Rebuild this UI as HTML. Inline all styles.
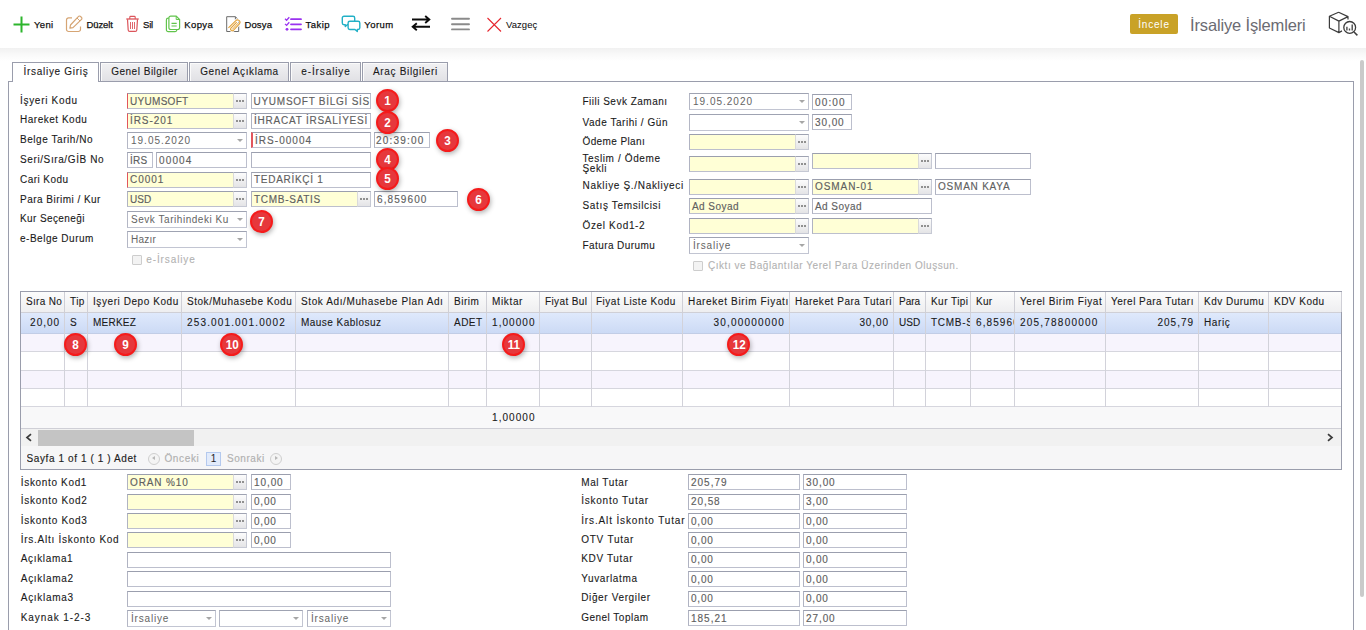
<!DOCTYPE html><html><head><meta charset="utf-8"><title>İrsaliye İşlemleri</title><style>
*{box-sizing:border-box}
html,body{margin:0;padding:0}
body{width:1366px;height:630px;overflow:hidden;background:#fff;position:relative;font-family:"Liberation Sans",sans-serif;font-size:10px;color:#222}
.a{position:absolute;white-space:nowrap;overflow:hidden}
.lbl{position:absolute;white-space:nowrap;color:#1a1a1a;font-size:10px;line-height:12px;-webkit-text-stroke:.1px currentColor}
.in{position:absolute;height:16px;border:1px solid #bcbfcd;border-top-color:#9b9fae;border-left-color:#b0b3c2;background:#fff;color:#606060;-webkit-text-stroke:.15px currentColor;font-size:10px;line-height:15px;padding:0 0 0 2px;white-space:nowrap;overflow:hidden}
.y{background:#ffffd6}
.req{border-left-color:#e2555c}
.btn{position:absolute;height:16px;width:14px;border:1px solid #c6c9d4;border-top-color:#9fa3b2;border-left-color:#dadada;background:linear-gradient(#fcfcfc,#e4e4e6)}
.btn i{position:absolute;top:6px;width:2px;height:2px;background:#909090}
.cmb{position:absolute;height:17px;border:1px solid #c2c5d2;border-top-color:#9fa3b2;border-left-color:#b4b7c5;background:#fff;color:#646464;font-size:10px;line-height:15px;padding:0 0 0 3px;white-space:nowrap;overflow:hidden}
.cmb:after{content:"";position:absolute;right:3px;top:6px;border:3px solid transparent;border-top:3px solid #a6a6a6;border-bottom:0}
.tb{position:absolute;top:18px;font-size:9.5px;color:#101010;line-height:13px;white-space:nowrap;-webkit-text-stroke:.25px #101010}
.tab{position:absolute;top:62px;height:19px;border:1px solid #9a9dac;border-bottom:0;background:linear-gradient(#f1f1f3,#e1e1e5);box-shadow:inset 1px 1px 0 #fbfbfb;font-size:10px;color:#1a1a1a;-webkit-text-stroke:.1px currentColor;text-align:center;line-height:17px;white-space:nowrap}
.num{position:absolute;width:23px;height:23px;border-radius:50%;border:2px solid #f51b1b;background:#e6383c;color:#fff;font-weight:bold;font-size:13px;line-height:19px;text-align:center;box-shadow:1px 2px 5px rgba(0,0,0,.3);padding-left:1px}
.num b{display:inline-block;transform:scaleX(.9)}
.gh{position:absolute;top:292px;height:20px;font-size:10px;color:#1a1a1a;-webkit-text-stroke:.1px currentColor;line-height:19px;white-space:nowrap;overflow:hidden;border-right:1px solid #cfcfd6;padding-left:5px}
.gc{position:absolute;top:313px;height:20px;font-size:10px;color:#1a1a1a;-webkit-text-stroke:.1px currentColor;line-height:19px;white-space:nowrap;overflow:hidden;padding-left:5px}
.r{text-align:right;padding-right:4px;padding-left:0}
</style></head><body>
<div class="a" style="left:0;top:48px;width:1366px;height:13px;background:linear-gradient(#f1f1f1,#f9f9f9 50%,#fff)"></div>
<svg class="a" style="left:13px;top:16px" width="17" height="17" viewBox="0 0 17 17" fill="none"><path d="M8.5 0.5V16.5M0.5 8.5H16.5" stroke="#2db52d" stroke-width="2"/></svg>
<div class="tb" style="left:34px;letter-spacing:0.339px;">Yeni</div>
<svg class="a" style="left:65px;top:15px" width="18" height="18" viewBox="0 0 18 18" fill="none"><path d="M7 2.8H3.6A2.1 2.1 0 0 0 1.5 4.9V14.4A2.1 2.1 0 0 0 3.6 16.5H13.4A2.1 2.1 0 0 0 15.5 14.4V11.5" stroke="#d6a574" stroke-width="1.2"/><path d="M13.3 1.6A1.5 1.5 0 0 1 15.6 1.5L16.4 2.3A1.5 1.5 0 0 1 16.3 4.6L8 12.6L4.9 13.1L5.5 10Z" stroke="#d6a574" stroke-width="1.2" stroke-linejoin="round"/><path d="M12 3L15 6" stroke="#d6a574" stroke-width="1"/></svg>
<div class="tb" style="left:86.5px;letter-spacing:-0.105px;">Düzelt</div>
<svg class="a" style="left:125px;top:15px" width="15" height="18" viewBox="0 0 15 18" fill="none"><path d="M1.3 4H13.7" stroke="#dc555b" stroke-width="1.3"/><path d="M4.8 4V2.2A0.8 0.8 0 0 1 5.6 1.4H9.4A0.8 0.8 0 0 1 10.2 2.2V4" stroke="#dc555b" stroke-width="1.1"/><path d="M2.5 4.2L3.2 15A1.5 1.5 0 0 0 4.7 16.4H10.3A1.5 1.5 0 0 0 11.8 15L12.5 4.2" stroke="#dc555b" stroke-width="1.2"/><path d="M5.5 7V14M7.5 7V14M9.5 7V14" stroke="#dc555b" stroke-width="0.9"/></svg>
<div class="tb" style="left:143px;letter-spacing:-0.186px;">Sil</div>
<svg class="a" style="left:165px;top:15px" width="16" height="18" viewBox="0 0 16 18" fill="none"><path d="M3.8 3.2H3.2A1.8 1.8 0 0 0 1.4 5V14.8A1.8 1.8 0 0 0 3.2 16.6H10A1.8 1.8 0 0 0 11.8 14.8V14.5" stroke="#62c44c" stroke-width="1.2"/><path d="M3.9 2.9A1.8 1.8 0 0 1 5.7 1.1H11.2L14.6 4.5V12.7A1.8 1.8 0 0 1 12.8 14.5H5.7A1.8 1.8 0 0 1 3.9 12.7Z" stroke="#62c44c" stroke-width="1.2"/><path d="M11.2 1.1V4.5H14.6" stroke="#62c44c" stroke-width="1"/><path d="M6.5 8.4H11.7M6.5 11H11.7" stroke="#62c44c" stroke-width="1.2"/></svg>
<div class="tb" style="left:184.2px;letter-spacing:0.412px;">Kopya</div>
<svg class="a" style="left:225px;top:15px" width="17" height="18" viewBox="0 0 17 18" fill="none"><path d="M1.7 1.7H10.4L13.7 5V16.5H1.7Z" stroke="#6c6c6c" stroke-width="1" stroke-linejoin="round"/><path d="M10.4 1.7V5H13.7" stroke="#6c6c6c" stroke-width="1"/><path d="M3.4 12.8L10.6 5.8A2.4 2.4 0 0 1 14.4 8.8L8.2 15.5A1.7 1.7 0 0 1 5.7 13.4L11.7 7.2" stroke="#fff" stroke-width="2.6"/><path d="M3.4 12.8L10.6 5.8A2.4 2.4 0 0 1 14.4 8.8L8.2 15.5A1.7 1.7 0 0 1 5.7 13.4L11.7 7.2" stroke="#e2a23a" stroke-width="1.1"/><path d="M7.2 14.5L13 8.2" stroke="#e2a23a" stroke-width="1"/></svg>
<div class="tb" style="left:244.4px;letter-spacing:0.154px;">Dosya</div>
<svg class="a" style="left:284px;top:15px" width="18" height="17" viewBox="0 0 18 17" fill="none"><path d="M7 4.2H17M7 9.3H17M7 14.3H17" stroke="#9a32f0" stroke-width="1.8" stroke-linecap="round"/><path d="M1 3.8L2.6 5.3L5.3 2.2M1 8.9L2.6 10.4L5.3 7.3" stroke="#9a32f0" stroke-width="1.3"/><circle cx="3" cy="14.3" r="1.4" fill="#9a32f0"/></svg>
<div class="tb" style="left:305.5px;letter-spacing:0.464px;">Takip</div>
<svg class="a" style="left:341px;top:15px" width="20" height="18" viewBox="0 0 20 18" fill="none"><path d="M3 1.3H12A1.7 1.7 0 0 1 13.7 3V8A1.7 1.7 0 0 1 12 9.7H6.3L4.3 11.6V9.7H3A1.7 1.7 0 0 1 1.3 8V3A1.7 1.7 0 0 1 3 1.3Z" stroke="#22b0c6" stroke-width="1.4" stroke-linejoin="round"/><path d="M8.8 6.2H17.1A1.7 1.7 0 0 1 18.8 7.9V12.8A1.7 1.7 0 0 1 17.1 14.5H16.3V16.6L14 14.5H8.8A1.7 1.7 0 0 1 7.1 12.8V7.9A1.7 1.7 0 0 1 8.8 6.2Z" fill="#fff" stroke="#22b0c6" stroke-width="1.4" stroke-linejoin="round"/></svg>
<div class="tb" style="left:364.2px;letter-spacing:0.498px;">Yorum</div>
<svg class="a" style="left:411px;top:15px" width="20" height="17" viewBox="0 0 20 17" fill="none"><path d="M1 4.5H18M14.2 1L18.3 4.5L14.2 8" stroke="#0c0c0c" stroke-width="1.9"/><path d="M19 11.7H2M5.8 8.2L1.7 11.7L5.8 15.2" stroke="#0c0c0c" stroke-width="1.9"/></svg>
<svg class="a" style="left:451px;top:16px" width="19" height="16" viewBox="0 0 19 16" fill="none"><path d="M1 2.8H18M1 8.3H18M1 13.4H18" stroke="#8a8a8a" stroke-width="1.9" stroke-linecap="round"/></svg>
<svg class="a" style="left:487px;top:17px" width="15" height="15" viewBox="0 0 15 15" fill="none"><path d="M0.5 1L14 14.5M14 1L0.5 14.5" stroke="#e6262e" stroke-width="1.1"/></svg>
<div class="tb" style="left:506px;letter-spacing:0.053px;-webkit-text-stroke:.05px #101010">Vazgeç</div>
<div class="a" style="left:1130px;top:14px;width:48px;height:20px;background:#c9a227;border-radius:2px;color:#fff;font-size:10px;letter-spacing:0.802px;text-align:center;line-height:21px">İncele</div>
<div class="a" style="left:1190px;top:14px;font-size:16.5px;color:#6b6b72;line-height:22px;letter-spacing:-0.149px">İrsaliye İşlemleri</div>
<svg class="a" style="left:1328px;top:11px" width="31" height="26" viewBox="0 0 31 26" fill="none"><path d="M10.6 1.2L1.4 5.3V17L10.9 21.6L14 19.9M10.6 1.2L20 5.6V8.4M1.4 5.3L10.9 10.1L20 5.6M10.9 10.1V21.6" stroke="#3c3c3c" stroke-width="1.2" stroke-linejoin="round"/><circle cx="21.7" cy="16.4" r="5.9" stroke="#3c3c3c" stroke-width="1.3"/><path d="M26 21L29.4 24.4" stroke="#3c3c3c" stroke-width="1.5"/><path d="M18.9 15.7V19.5M21.5 17.6V19.5M24.2 13.6V19.5" stroke="#4a4a4a" stroke-width="1.4"/></svg>
<div class="a" style="left:1360px;top:60px;width:4px;height:537px;background:#cacaca;border-radius:2px"></div>
<div class="a" style="left:8px;top:81px;width:1346px;height:560px;border:1px solid #9a9dac;border-bottom:0"></div>
<div class="tab" style="left:12px;width:87px;background:#fff;height:20px;box-shadow:none;letter-spacing:0.707px;padding-left:1px">İrsaliye Giriş</div>
<div class="tab" style="left:100px;width:88px;letter-spacing:0.516px;padding-left:1px">Genel Bilgiler</div>
<div class="tab" style="left:189px;width:100px;letter-spacing:0.605px;padding-left:1px">Genel Açıklama</div>
<div class="tab" style="left:290px;width:71px;letter-spacing:0.883px;padding-left:1px">e-İrsaliye</div>
<div class="tab" style="left:362px;width:86px;letter-spacing:0.673px;padding-left:1px">Araç Bilgileri</div>
<div class="lbl" style="left:20px;top:95px;letter-spacing:0.698px;">İşyeri Kodu</div>
<div class="lbl" style="left:20px;top:114px;letter-spacing:0.513px;">Hareket Kodu</div>
<div class="lbl" style="left:20px;top:134px;letter-spacing:0.556px;">Belge Tarih/No</div>
<div class="lbl" style="left:20px;top:154px;letter-spacing:0.608px;">Seri/Sıra/GİB No</div>
<div class="lbl" style="left:20px;top:174px;letter-spacing:0.448px;">Cari Kodu</div>
<div class="lbl" style="left:20px;top:194px;letter-spacing:0.477px;">Para Birimi / Kur</div>
<div class="lbl" style="left:20px;top:213px;letter-spacing:0.397px;">Kur Seçeneği</div>
<div class="lbl" style="left:20px;top:233px;letter-spacing:0.511px;">e-Belge Durum</div>
<div class="in y req" style="left:127px;top:93px;width:107px;letter-spacing:0.299px;border-right:0;">UYUMSOFT</div>
<div class="btn" style="left:233px;top:93px;"><i style="left:2px"></i><i style="left:5px"></i><i style="left:8px"></i></div>
<div class="in" style="left:251px;top:93px;width:120px;padding-left:1.5px;letter-spacing:0.74px">UYUMSOFT BİLGİ SİSTEMLERİ</div>
<div class="in y req" style="left:127px;top:113px;width:107px;line-height:13px;letter-spacing:0.931px;border-right:0;">İRS-201</div>
<div class="btn" style="left:233px;top:113px;"><i style="left:2px"></i><i style="left:5px"></i><i style="left:8px"></i></div>
<div class="in" style="left:251px;top:113px;width:120px;line-height:13px;letter-spacing:0.766px">İHRACAT İRSALİYESİ</div>
<div class="cmb" style="left:127px;top:132px;width:120px;letter-spacing:0.995px">19.05.2020</div>
<div class="in " style="left:251px;top:132px;width:120px;letter-spacing:1.032px;border-left:2px solid #e2555c;padding-left:2px">İRS-00004</div>
<div class="in " style="left:374px;top:132px;width:56px;letter-spacing:1.197px;padding-left:1px">20:39:00</div>
<div class="in " style="left:127px;top:152px;width:26px;letter-spacing:0.243px;">İRS</div>
<div class="in " style="left:156px;top:152px;width:91px;letter-spacing:1.138px;">00004</div>
<div class="in " style="left:251px;top:152px;width:120px;letter-spacing:0px;"></div>
<div class="in y req" style="left:127px;top:172px;width:107px;line-height:13px;letter-spacing:0.986px;border-right:0;">C0001</div>
<div class="btn" style="left:233px;top:172px;"><i style="left:2px"></i><i style="left:5px"></i><i style="left:8px"></i></div>
<div class="in " style="left:251px;top:172px;width:120px;line-height:13px;letter-spacing:0.711px;">TEDARİKÇİ 1</div>
<div class="in y" style="left:127px;top:191px;width:107px;letter-spacing:0.095px;border-right:0;">USD</div>
<div class="btn" style="left:233px;top:191px;"><i style="left:2px"></i><i style="left:5px"></i><i style="left:8px"></i></div>
<div class="in y" style="left:251px;top:191px;width:107px;letter-spacing:0.718px;border-right:0;">TCMB-SATIS</div>
<div class="btn" style="left:357px;top:191px;"><i style="left:2px"></i><i style="left:5px"></i><i style="left:8px"></i></div>
<div class="in " style="left:374px;top:191px;width:84px;letter-spacing:1.099px;">6,859600</div>
<div class="cmb" style="left:127px;top:211px;width:120px;letter-spacing:0.54px">Sevk Tarihindeki Ku</div>
<div class="cmb" style="left:127px;top:231px;width:120px;letter-spacing:0.242px">Hazır</div>
<div class="a" style="left:132px;top:255px;width:10px;height:10px;border:1px solid #cdcdcd;background:#f3f3f3;border-radius:1px"></div>
<div class="lbl" style="left:146.3px;top:254px;letter-spacing:0.883px;color:#b2b2b2">e-İrsaliye</div>
<div class="lbl" style="left:582.5px;top:96px;letter-spacing:0.489px;">Fiili Sevk Zamanı</div>
<div class="lbl" style="left:582.5px;top:117px;letter-spacing:0.539px;">Vade Tarihi / Gün</div>
<div class="lbl" style="left:582.5px;top:136px;letter-spacing:0.385px;">Ödeme Planı</div>
<div class="lbl" style="left:582.5px;top:180px;letter-spacing:0.68px;">Nakliye Ş./Nakliyeci</div>
<div class="lbl" style="left:582.5px;top:200px;letter-spacing:0.652px;">Satış Temsilcisi</div>
<div class="lbl" style="left:582.5px;top:220px;letter-spacing:0.656px;">Özel Kod1-2</div>
<div class="lbl" style="left:582.5px;top:240px;letter-spacing:0.419px;">Fatura Durumu</div>
<div class="lbl" style="left:582.5px;top:153px;letter-spacing:0.624px;">Teslim / Ödeme</div>
<div class="lbl" style="left:582.5px;top:163px;letter-spacing:0.46px;letter-spacing:.6px">Şekli</div>
<div class="cmb" style="left:689px;top:93px;width:120px;letter-spacing:0.995px">19.05.2020</div>
<div class="in " style="left:812px;top:94px;width:40px;letter-spacing:1.155px;">00:00</div>
<div class="cmb" style="left:689px;top:114px;width:120px;letter-spacing:0px"></div>
<div class="in " style="left:812px;top:114px;width:40px;letter-spacing:0.915px;">30,00</div>
<div class="in y" style="left:689px;top:134px;width:107px;letter-spacing:0px;border-right:0;"></div>
<div class="btn" style="left:795px;top:134px;"><i style="left:2px"></i><i style="left:5px"></i><i style="left:8px"></i></div>
<div class="in y" style="left:689px;top:156px;width:107px;letter-spacing:0px;border-right:0;"></div>
<div class="btn" style="left:795px;top:156px;"><i style="left:2px"></i><i style="left:5px"></i><i style="left:8px"></i></div>
<div class="in y" style="left:812px;top:153px;width:107px;letter-spacing:0px;border-right:0;"></div>
<div class="btn" style="left:918px;top:153px;"><i style="left:2px"></i><i style="left:5px"></i><i style="left:8px"></i></div>
<div class="in " style="left:935px;top:153px;width:96px;letter-spacing:0px;"></div>
<div class="in y" style="left:689px;top:179px;width:107px;line-height:13px;letter-spacing:0px;border-right:0;"></div>
<div class="btn" style="left:795px;top:179px;"><i style="left:2px"></i><i style="left:5px"></i><i style="left:8px"></i></div>
<div class="in y" style="left:812px;top:179px;width:107px;line-height:13px;letter-spacing:0.934px;border-right:0;">OSMAN-01</div>
<div class="btn" style="left:918px;top:179px;"><i style="left:2px"></i><i style="left:5px"></i><i style="left:8px"></i></div>
<div class="in " style="left:935px;top:179px;width:96px;line-height:13px;letter-spacing:0.785px;">OSMAN KAYA</div>
<div class="in y" style="left:689px;top:198px;width:107px;letter-spacing:0.454px;border-right:0;">Ad Soyad</div>
<div class="btn" style="left:795px;top:198px;"><i style="left:2px"></i><i style="left:5px"></i><i style="left:8px"></i></div>
<div class="in " style="left:812px;top:198px;width:120px;letter-spacing:0.454px;">Ad Soyad</div>
<div class="in y" style="left:689px;top:218px;width:107px;letter-spacing:0px;border-right:0;"></div>
<div class="btn" style="left:795px;top:218px;"><i style="left:2px"></i><i style="left:5px"></i><i style="left:8px"></i></div>
<div class="in y" style="left:812px;top:218px;width:107px;letter-spacing:0px;border-right:0;"></div>
<div class="btn" style="left:918px;top:218px;"><i style="left:2px"></i><i style="left:5px"></i><i style="left:8px"></i></div>
<div class="cmb" style="left:689px;top:237px;width:120px;letter-spacing:0.816px">İrsaliye</div>
<div class="a" style="left:693px;top:261px;width:10px;height:10px;border:1px solid #cdcdcd;background:#f3f3f3;border-radius:1px"></div>
<div class="lbl" style="left:708px;top:260px;letter-spacing:0.534px;color:#b2b2b2">Çıktı ve Bağlantılar Yerel Para Üzerinden Oluşsun.</div>
<div class="a" style="left:20px;top:291px;width:1322px;height:179px;border:1px solid #9a9dac;background:#fff"></div>
<div class="a" style="left:21px;top:292px;width:1320px;height:21px;background:linear-gradient(#fcfcfc,#eeeef0);border-bottom:1px solid #cfcfd6"></div>
<div class="a" style="left:21px;top:313px;width:1320px;height:21px;background:linear-gradient(#dfe9fc,#ccdaf5);border-bottom:1px solid #c2cde6"></div>
<div class="a" style="left:21px;top:334px;width:1320px;height:18px;background:#f7f4fd;border-bottom:1px solid #d6d6de"></div>
<div class="a" style="left:21px;top:352px;width:1320px;height:19px;background:#fff;border-bottom:1px solid #d6d6de"></div>
<div class="a" style="left:21px;top:371px;width:1320px;height:18px;background:#f7f4fd;border-bottom:1px solid #d6d6de"></div>
<div class="a" style="left:21px;top:389px;width:1320px;height:18px;background:#fff;border-bottom:1px solid #d6d6de"></div>
<div class="a" style="left:21px;top:407px;width:1320px;height:22px;background:#f8f8f9;border-bottom:1px solid #cfcfd6"></div>
<div class="a" style="left:21px;top:429px;width:1320px;height:17px;background:#f1f1f1"></div>
<div class="a" style="left:38px;top:430px;width:156px;height:16px;background:#c4c4c4"></div>
<svg class="a" style="left:25px;top:432px" width="8" height="11" viewBox="0 0 8 11" fill="none"><path d="M6 2.2L2 5.5L6 8.8" stroke="#3a3a3a" stroke-width="1.7"/></svg>
<svg class="a" style="left:1326px;top:432px" width="8" height="11" viewBox="0 0 8 11" fill="none"><path d="M2 2.2L6 5.5L2 8.8" stroke="#3a3a3a" stroke-width="1.7"/></svg>
<div class="a" style="left:21px;top:446px;width:1320px;height:23px;background:#f6f6f7"></div>
<div class="a" style="left:26.5px;top:452px;font-size:10px;letter-spacing:0.599px;color:#1e1e1e;-webkit-text-stroke:.15px currentColor;line-height:13px">Sayfa 1 of 1 ( 1 ) Adet</div>
<div class="a" style="left:148px;top:452.5px;width:12px;height:12px;border:1px solid #cfcfcf;border-radius:50%;background:#f4f4f4"></div>
<div class="a" style="left:151.5px;top:456px;border:2.5px solid transparent;border-right:3px solid #b8b8b8;border-left:0"></div>
<div class="a" style="left:164.4px;top:452px;font-size:10px;letter-spacing:0.646px;color:#b0b0b0;-webkit-text-stroke:.15px currentColor;line-height:13px">Önceki</div>
<div class="a" style="left:206px;top:452px;width:15px;height:14px;border:1px solid #b4c9ee;background:#e2ebfb;font-size:10px;color:#1e1e1e;line-height:12px;text-align:center">1</div>
<div class="a" style="left:227px;top:452px;font-size:10px;letter-spacing:0.556px;color:#b0b0b0;-webkit-text-stroke:.15px currentColor;line-height:13px">Sonraki</div>
<div class="a" style="left:270px;top:452.5px;width:12px;height:12px;border:1px solid #cfcfcf;border-radius:50%;background:#f4f4f4"></div>
<div class="a" style="left:274.5px;top:456px;border:2.5px solid transparent;border-left:3px solid #b8b8b8;border-right:0"></div>
<div class="gh" style="left:21px;width:44px;letter-spacing:0.314px;">Sıra No</div>
<div class="gc r" style="left:21px;width:43px;letter-spacing:0.975px">20,00</div>
<div class="a" style="left:64px;top:313px;width:1px;height:94px;background:#d2d2da"></div>
<div class="gh" style="left:65px;width:23px;letter-spacing:0.393px;">Tip</div>
<div class="gc " style="left:65px;width:22px;letter-spacing:0.3px">S</div>
<div class="a" style="left:87px;top:313px;width:1px;height:94px;background:#d2d2da"></div>
<div class="gh" style="left:88px;width:94px;letter-spacing:0.574px;">Işyeri Depo Kodu</div>
<div class="gc " style="left:88px;width:93px;letter-spacing:0.221px">MERKEZ</div>
<div class="a" style="left:181px;top:313px;width:1px;height:94px;background:#d2d2da"></div>
<div class="gh" style="left:182px;width:114px;letter-spacing:0.538px;">Stok/Muhasebe Kodu</div>
<div class="gc " style="left:182px;width:113px;letter-spacing:1.148px">253.001.001.0002</div>
<div class="a" style="left:295px;top:313px;width:1px;height:94px;background:#d2d2da"></div>
<div class="gh" style="left:296px;width:153px;letter-spacing:0.606px;">Stok Adı/Muhasebe Plan Adı</div>
<div class="gc " style="left:296px;width:152px;letter-spacing:0.462px">Mause Kablosuz</div>
<div class="a" style="left:448px;top:313px;width:1px;height:94px;background:#d2d2da"></div>
<div class="gh" style="left:449px;width:38px;letter-spacing:0.525px;">Birim</div>
<div class="gc " style="left:449px;width:37px;letter-spacing:0.482px">ADET</div>
<div class="a" style="left:486px;top:313px;width:1px;height:94px;background:#d2d2da"></div>
<div class="gh" style="left:487px;width:53px;letter-spacing:0.646px;">Miktar</div>
<div class="gc " style="left:487px;width:52px;letter-spacing:1.065px">1,00000</div>
<div class="a" style="left:539px;top:313px;width:1px;height:94px;background:#d2d2da"></div>
<div class="gh" style="left:540px;width:52px;letter-spacing:0.378px;">Fiyat Bul</div>
<div class="a" style="left:591px;top:313px;width:1px;height:94px;background:#d2d2da"></div>
<div class="gh" style="left:592px;width:91px;letter-spacing:0.512px;padding-left:4px;">Fiyat Liste Kodu</div>
<div class="a" style="left:682px;top:313px;width:1px;height:94px;background:#d2d2da"></div>
<div class="gh" style="left:683px;width:107px;letter-spacing:0.66px;">Hareket Birim Fiyatı</div>
<div class="gc r" style="left:683px;width:106px;letter-spacing:1.191px">30,00000000</div>
<div class="a" style="left:789px;top:313px;width:1px;height:94px;background:#d2d2da"></div>
<div class="gh" style="left:790px;width:104px;letter-spacing:0.547px;">Hareket Para Tutari</div>
<div class="gc r" style="left:790px;width:103px;letter-spacing:0.915px">30,00</div>
<div class="a" style="left:893px;top:313px;width:1px;height:94px;background:#d2d2da"></div>
<div class="gh" style="left:894px;width:32px;letter-spacing:0.019px;">Para</div>
<div class="gc " style="left:894px;width:31px;letter-spacing:0.095px">USD</div>
<div class="a" style="left:925px;top:313px;width:1px;height:94px;background:#d2d2da"></div>
<div class="gh" style="left:926px;width:45px;letter-spacing:0.45px;">Kur Tipi</div>
<div class="gc " style="left:926px;width:44px;letter-spacing:0.718px">TCMB-SATIS</div>
<div class="a" style="left:970px;top:313px;width:1px;height:94px;background:#d2d2da"></div>
<div class="gh" style="left:971px;width:44px;letter-spacing:0.312px;">Kur</div>
<div class="gc " style="left:971px;width:43px;letter-spacing:1.099px">6,859600</div>
<div class="a" style="left:1014px;top:313px;width:1px;height:94px;background:#d2d2da"></div>
<div class="gh" style="left:1015px;width:91px;letter-spacing:0.581px;">Yerel Birim Fiyat</div>
<div class="gc " style="left:1015px;width:90px;letter-spacing:1.212px">205,78800000</div>
<div class="a" style="left:1105px;top:313px;width:1px;height:94px;background:#d2d2da"></div>
<div class="gh" style="left:1106px;width:93px;letter-spacing:0.484px;">Yerel Para Tutarı</div>
<div class="gc r" style="left:1106px;width:92px;letter-spacing:0.986px">205,79</div>
<div class="a" style="left:1198px;top:313px;width:1px;height:94px;background:#d2d2da"></div>
<div class="gh" style="left:1199px;width:70px;letter-spacing:0.482px;">Kdv Durumu</div>
<div class="gc " style="left:1199px;width:69px;letter-spacing:0.613px">Hariç</div>
<div class="a" style="left:1268px;top:313px;width:1px;height:94px;background:#d2d2da"></div>
<div class="gh" style="left:1269px;width:73px;letter-spacing:0.475px;">KDV Kodu</div>
<div class="gc" style="left:487px;top:408px;width:52px;letter-spacing:1.065px">1,00000</div>
<div class="lbl" style="left:20.8px;top:477px;letter-spacing:0.66px;">İskonto Kod1</div>
<div class="lbl" style="left:20.8px;top:495px;letter-spacing:0.702px;">İskonto Kod2</div>
<div class="lbl" style="left:20.8px;top:515px;letter-spacing:0.702px;">İskonto Kod3</div>
<div class="lbl" style="left:20.8px;top:534px;letter-spacing:0.734px;">İrs.Altı İskonto Kod</div>
<div class="lbl" style="left:20.8px;top:553px;letter-spacing:0.646px;">Açıklama1</div>
<div class="lbl" style="left:20.8px;top:573px;letter-spacing:0.702px;">Açıklama2</div>
<div class="lbl" style="left:20.8px;top:592px;letter-spacing:0.702px;">Açıklama3</div>
<div class="lbl" style="left:20.8px;top:612px;letter-spacing:0.902px;">Kaynak 1-2-3</div>
<div class="in y" style="left:127px;top:474px;width:107px;letter-spacing:0.864px;border-right:0;">ORAN %10</div>
<div class="btn" style="left:233px;top:474px;"><i style="left:2px"></i><i style="left:5px"></i><i style="left:8px"></i></div>
<div class="in " style="left:251px;top:474px;width:40px;letter-spacing:0.915px;">10,00</div>
<div class="in y" style="left:127px;top:494px;width:107px;line-height:13px;letter-spacing:0px;border-right:0;"></div>
<div class="btn" style="left:233px;top:494px;"><i style="left:2px"></i><i style="left:5px"></i><i style="left:8px"></i></div>
<div class="in " style="left:251px;top:494px;width:40px;line-height:13px;letter-spacing:0.784px;">0,00</div>
<div class="in y" style="left:127px;top:513px;width:107px;letter-spacing:0px;border-right:0;"></div>
<div class="btn" style="left:233px;top:513px;"><i style="left:2px"></i><i style="left:5px"></i><i style="left:8px"></i></div>
<div class="in " style="left:251px;top:513px;width:40px;letter-spacing:0.784px;">0,00</div>
<div class="in y" style="left:127px;top:532px;width:107px;letter-spacing:0px;border-right:0;"></div>
<div class="btn" style="left:233px;top:532px;"><i style="left:2px"></i><i style="left:5px"></i><i style="left:8px"></i></div>
<div class="in " style="left:251px;top:532px;width:40px;letter-spacing:0.784px;">0,00</div>
<div class="in " style="left:127px;top:552px;width:264px;letter-spacing:0px;"></div>
<div class="in " style="left:127px;top:571px;width:264px;letter-spacing:0px;"></div>
<div class="in " style="left:127px;top:591px;width:264px;letter-spacing:0px;"></div>
<div class="cmb" style="left:127px;top:610px;width:89px;letter-spacing:0.816px">İrsaliye</div>
<div class="cmb" style="left:219px;top:610px;width:84px;letter-spacing:0px"></div>
<div class="cmb" style="left:307px;top:610px;width:84px;letter-spacing:0.816px">İrsaliye</div>
<div class="lbl" style="left:581.2px;top:477px;letter-spacing:0.613px;">Mal Tutar</div>
<div class="in " style="left:688px;top:474px;width:112px;letter-spacing:0.986px;">205,79</div>
<div class="in " style="left:803px;top:474px;width:104px;letter-spacing:0.915px;">30,00</div>
<div class="lbl" style="left:581.2px;top:495px;letter-spacing:0.761px;">İskonto Tutar</div>
<div class="in " style="left:688px;top:494px;width:112px;line-height:13px;letter-spacing:0.915px;">20,58</div>
<div class="in " style="left:803px;top:494px;width:104px;line-height:13px;letter-spacing:0.784px;">3,00</div>
<div class="lbl" style="left:581.2px;top:515px;letter-spacing:0.865px;">İrs.Alt İskonto Tutar</div>
<div class="in " style="left:688px;top:513px;width:112px;letter-spacing:0.784px;">0,00</div>
<div class="in " style="left:803px;top:513px;width:104px;letter-spacing:0.784px;">0,00</div>
<div class="lbl" style="left:581.2px;top:534px;letter-spacing:0.764px;">OTV Tutar</div>
<div class="in " style="left:688px;top:532px;width:112px;letter-spacing:0.784px;">0,00</div>
<div class="in " style="left:803px;top:532px;width:104px;letter-spacing:0.784px;">0,00</div>
<div class="lbl" style="left:581.2px;top:553px;letter-spacing:0.652px;">KDV Tutar</div>
<div class="in " style="left:688px;top:552px;width:112px;line-height:13px;letter-spacing:0.784px;">0,00</div>
<div class="in " style="left:803px;top:552px;width:104px;line-height:13px;letter-spacing:0.784px;">0,00</div>
<div class="lbl" style="left:581.2px;top:573px;letter-spacing:0.637px;">Yuvarlatma</div>
<div class="in " style="left:688px;top:571px;width:112px;letter-spacing:0.784px;">0,00</div>
<div class="in " style="left:803px;top:571px;width:104px;letter-spacing:0.784px;">0,00</div>
<div class="lbl" style="left:581.2px;top:592px;letter-spacing:0.637px;">Diğer Vergiler</div>
<div class="in " style="left:688px;top:591px;width:112px;line-height:13px;letter-spacing:0.784px;">0,00</div>
<div class="in " style="left:803px;top:591px;width:104px;line-height:13px;letter-spacing:0.784px;">0,00</div>
<div class="lbl" style="left:581.2px;top:612px;letter-spacing:0.482px;">Genel Toplam</div>
<div class="in " style="left:688px;top:610px;width:112px;letter-spacing:0.986px;">185,21</div>
<div class="in " style="left:803px;top:610px;width:104px;letter-spacing:0.915px;">27,00</div>
<div class="num" style="left:376.0px;top:89.0px"><b>1</b></div>
<div class="num" style="left:376.0px;top:111.0px"><b>2</b></div>
<div class="num" style="left:436.0px;top:129.0px"><b>3</b></div>
<div class="num" style="left:376.0px;top:148.0px"><b>4</b></div>
<div class="num" style="left:376.0px;top:167.0px"><b>5</b></div>
<div class="num" style="left:467.0px;top:188.0px"><b>6</b></div>
<div class="num" style="left:250.0px;top:210.0px"><b>7</b></div>
<div class="num" style="left:64.0px;top:333.0px"><b>8</b></div>
<div class="num" style="left:114.0px;top:333.0px"><b>9</b></div>
<div class="num" style="left:220.0px;top:333.0px"><b>10</b></div>
<div class="num" style="left:502.0px;top:333.0px"><b>11</b></div>
<div class="num" style="left:727.0px;top:333.0px"><b>12</b></div>
</body></html>
